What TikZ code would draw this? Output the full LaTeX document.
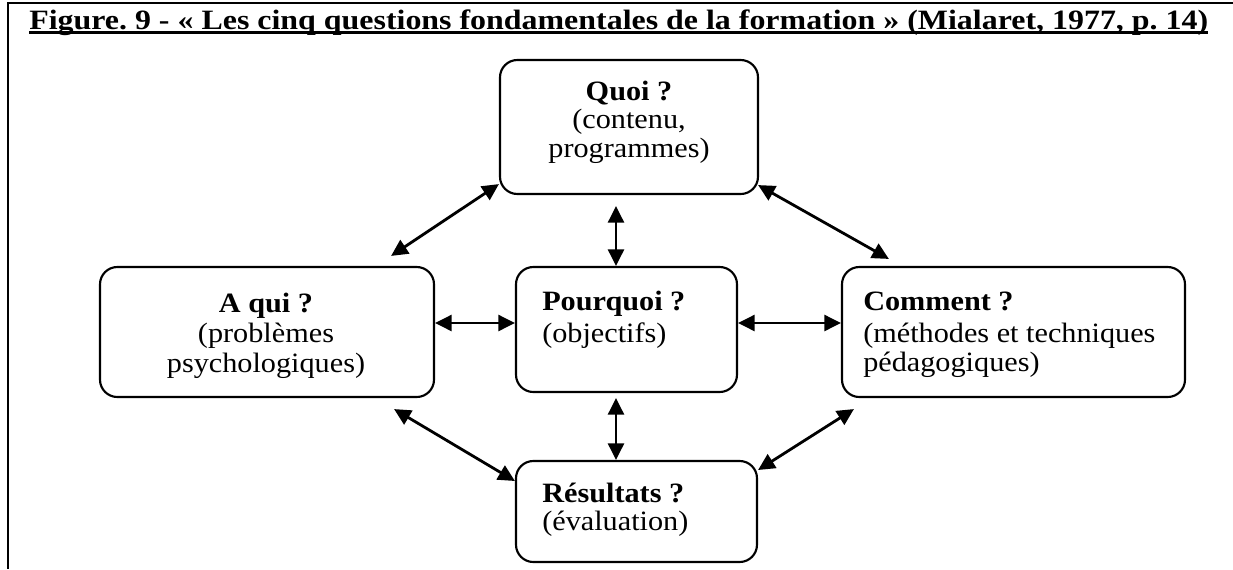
\documentclass[tikz,border=0pt]{standalone}
\usepackage{fontspec}
\setmainfont{Liberation Serif}[FakeStretch=1.08]
\newfontfamily\titlefont{Liberation Serif}[FakeStretch=1.14]
\usetikzlibrary{arrows.meta,calc,fit}
\newcommand\titleul[1]{\setbox0=\hbox{#1}\rlap{\vrule height -1.4pt depth 3.4pt width \wd0}\box0}
\begin{document}
\begin{tikzpicture}[x=0.75pt,y=-0.75pt,
  box/.style={draw,line width=1.6pt,rounded corners=13pt,inner sep=0pt},
  txt/.style={inner sep=0pt,font=\fontsize{21pt}{24pt}\selectfont},
  btxt/.style={inner sep=0pt,font=\fontsize{21pt}{24pt}\selectfont\bfseries},
  link/.style={line width=2.1pt,{Triangle[length=12.5pt,width=12pt]}-{Triangle[length=12.5pt,width=12pt]}}]
\useasboundingbox (0,0) rectangle (1233,569);
% frame
\draw[line width=2pt] (1233,3) -- (8,3) -- (8,569);
% title
\node[anchor=base west,inner sep=0pt] (title) at (29,29.5)
  {\titleul{\titlefont\bfseries\fontsize{21pt}{24pt}\selectfont\frenchspacing Figure. 9 - « Les cinq questions fondamentales de la formation » (Mialaret, 1977, p. 14)}};
% boxes
\node[box,fit={(500,60) (758,194)}] (quoi) {};
\node[box,fit={(100,267) (434,397)}] (aqui) {};
\node[box,fit={(516,267) (737,392)}] (pourquoi) {};
\node[box,fit={(842,267) (1185,397)}] (comment) {};
\node[box,fit={(516,461) (757,562)}] (resultats) {};
% texts
\node[btxt,anchor=base] (q1) at (629,100) {Quoi ?};
\node[txt,anchor=base] (q2) at (629,128.5) {(contenu,};
\node[txt,anchor=base] (q3) at (629,157) {programmes)};
\node[btxt,anchor=base] (a1) at (266,312) {A qui ?};
\node[txt,anchor=base] (a2) at (266,342) {(problèmes};
\node[txt,anchor=base] (a3) at (266,372) {psychologiques)};
\node[btxt,anchor=base west] (p1) at (542,310) {Pourquoi ?};
\node[txt,anchor=base west] (p2) at (542,342) {(objectifs)};
\node[btxt,anchor=base west] (c1) at (863,310) {Comment ?};
\node[txt,anchor=base west] (c2) at (863,342) {(méthodes et techniques};
\node[txt,anchor=base west] (c3) at (863,371) {pédagogiques)};
\node[btxt,anchor=base west] (r1) at (542,502) {Résultats ?};
\node[txt,anchor=base west] (r2) at (542,530) {(évaluation)};
% connectors
\draw[link] ($(quoi.south west)+(0,-11)$) -- ($(aqui.north east)+(-44,-10)$);
\draw[link] ($(quoi.south east)+(-1,-10)$) -- ($(comment.north west)+(48,-7)$);
\draw[link] ($(quoi.south)+(-13,11)$) -- ($(pourquoi.north)+(-10.5,0)$);
\draw[link] ($(pourquoi.south)+(-10.5,5)$) -- ($(resultats.north)+(-20.5,0)$);
\draw[link] ($(aqui.east)+(0,-9)$) -- ($(pourquoi.west)+(0,-6.5)$);
\draw[link] ($(pourquoi.east)+(0,-6.5)$) -- ($(comment.west)+(0,-9)$);
\draw[link] ($(aqui.south east)+(-41,11)$) -- ($(resultats.west)+(0,-30.5)$);
\draw[link] ($(comment.south west)+(13,11)$) -- ($(resultats.east)+(0,-41.5)$);
\end{tikzpicture}
\end{document}
